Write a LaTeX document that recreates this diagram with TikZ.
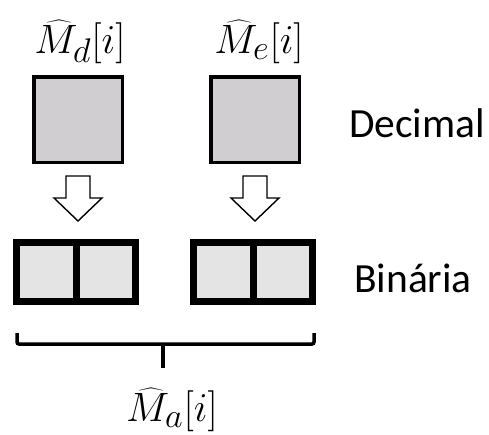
\documentclass[tikz,border=0pt]{standalone}
\usepackage{fix-cm}
\usepackage{fontspec}
\setmainfont{Carlito}
\newcommand{\biglbl}[1]{\scalebox{1.65}{$#1$}}
\begin{document}
\begin{tikzpicture}[x=1pt,y=-1pt,
  topsq/.style={draw=black,line width=3.5pt,fill=topgray,minimum width=88.5pt,minimum height=85.5pt,inner sep=0pt},
  binbox/.style={draw=black,line width=7pt,fill=botgray,minimum width=119pt,minimum height=59pt,inner sep=0pt},
  lbl/.style={font=\fontsize{41.5}{48}\selectfont,inner sep=0pt,anchor=base west},
  mlbl/.style={font=\fontsize{24.88}{30}\selectfont,inner sep=0pt,anchor=base},
  bigarrow/.pic={\draw[line width=1.4pt,fill=white,line join=miter]
     (-12,0) -- (12,0) -- (12,22) -- (24,22) -- (0,45) -- (-24,22) -- (-12,22) -- cycle;}
]
\definecolor{topgray}{HTML}{D0CED0}
\definecolor{botgray}{HTML}{E4E4E4}
\useasboundingbox (0,0) rectangle (489,434);
% top squares
\node[topsq] (sqd) at (78,119.5) {};
\node[topsq] (sqe) at (255,119.5) {};
% labels
\node[mlbl] (ld) at (80,53) {\biglbl{\widehat{M}_d[i]}};
\node[mlbl] (le) at (259,53) {\biglbl{\widehat{M}_e[i]}};
\node[lbl] (dec) at (349,137) {Decimal};
% arrows
\path (78,176) pic {bigarrow};
\path (255,176) pic {bigarrow};
% binary boxes
\node[binbox] (bl) at (76,272) {};
\node[binbox] (br) at (253,272) {};
\draw[line width=7pt] (bl.north) -- (bl.south);
\draw[line width=7pt] (br.north) -- (br.south);
\node[lbl] (bin) at (354,292) {Binária};
% brace
\coordinate (bL) at (17,333);
\coordinate (bR) at (314,333);
\coordinate (bM) at (163,344);
\draw[line width=3.5pt,rounded corners=2pt] (bL) -- (17,344) -- (314,344) -- (bR);
\draw[line width=3.5pt] (bM) -- (163,368);
\node[mlbl] (la) at (172,421) {\biglbl{\widehat{M}_a[i]}};
\end{tikzpicture}
\end{document}
